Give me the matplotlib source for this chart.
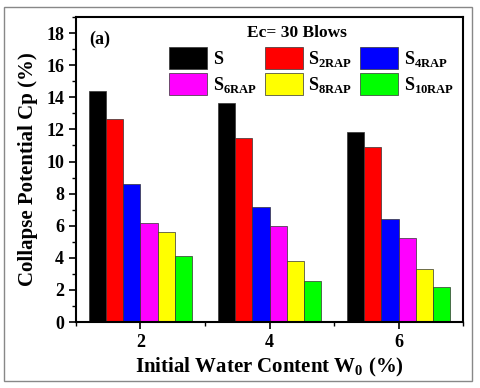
import numpy as np
import matplotlib.pyplot as plt
from matplotlib.patches import Rectangle
from matplotlib.ticker import MultipleLocator

plt.rcParams["font.family"] = "Liberation Serif"
plt.rcParams["font.weight"] = "bold"
plt.rcParams["mathtext.fontset"] = "custom"
plt.rcParams["mathtext.rm"] = "Liberation Serif:bold"
plt.rcParams["mathtext.bf"] = "Liberation Serif:bold"

water = [2, 4, 6]
labels = ["S", r"S$_{\mathrm{2RAP}}$", r"S$_{\mathrm{4RAP}}$",
          r"S$_{\mathrm{6RAP}}$", r"S$_{\mathrm{8RAP}}$", r"S$_{\mathrm{10RAP}}$"]
s = [14.4, 13.62, 11.81]
s2 = [12.68, 11.46, 10.9]
s4 = [8.63, 7.14, 6.41]
s6 = [6.14, 5.98, 5.21]
s8 = [5.62, 3.78, 3.3]
s10 = [4.13, 2.53, 2.16]
colors = ["#000000", "#ff0000", "#0000ff", "#ff00ff", "#ffff00", "#00ff00"]

fig = plt.figure(figsize=(4.8, 3.88), dpi=100)
ax = fig.add_axes([0.158, 0.17, 0.807, 0.786])
fig.patches.append(Rectangle((0.009, 0.018), 0.975, 0.965, transform=fig.transFigure,
                             fill=False, edgecolor="#888888", lw=1.0))

w = 1.6 / 6
x = np.array(water, dtype=float)
bars = []
for i, vals in enumerate([s, s2, s4, s6, s8, s10]):
    b = ax.bar(x - 0.8 + w * (i + 0.5), vals, width=w, color=colors[i],
               edgecolor="#333333", linewidth=0.5, label=labels[i])
    bars.append(b)

ax.set_xlim(1, 7)
ax.set_ylim(0, 19)
ax.set_xticks(water)
ax.xaxis.set_minor_locator(MultipleLocator(1))
ax.set_yticks(range(0, 19, 2))
ax.yaxis.set_minor_locator(MultipleLocator(1))
ax.tick_params(which="major", direction="out", length=5, width=1.2, labelsize=13)
ax.tick_params(which="minor", direction="out", length=3, width=1.0)
for sp in ax.spines.values():
    sp.set_linewidth(1.5)

ax.set_xlabel(r"Initial Water Content W$_{\mathrm{0}}$ (%)", fontsize=15, fontweight="bold", labelpad=4)
ax.set_ylabel("Collapse Potential Cp (%)", fontsize=15, fontweight="bold", labelpad=6)

ax.text(0.035, 0.955, "(a)", transform=ax.transAxes, fontsize=13, fontweight="bold", va="top")
ax.text(0.57, 0.975, "Ec= 30 Blows", transform=ax.transAxes, fontsize=12.5, fontweight="bold",
        va="top", ha="center")

# row-major order for a 3-column legend
order = [0, 3, 1, 4, 2, 5]
ax.legend([bars[k] for k in order], [labels[k] for k in order], ncol=3,
          loc="upper right", bbox_to_anchor=(0.995, 0.925), frameon=False,
          handlelength=2.1, handleheight=1.5, handletextpad=0.3, columnspacing=0.45,
          labelspacing=0.2, fontsize=13, borderaxespad=0.0)

fig.savefig("out.png", dpi=100)
